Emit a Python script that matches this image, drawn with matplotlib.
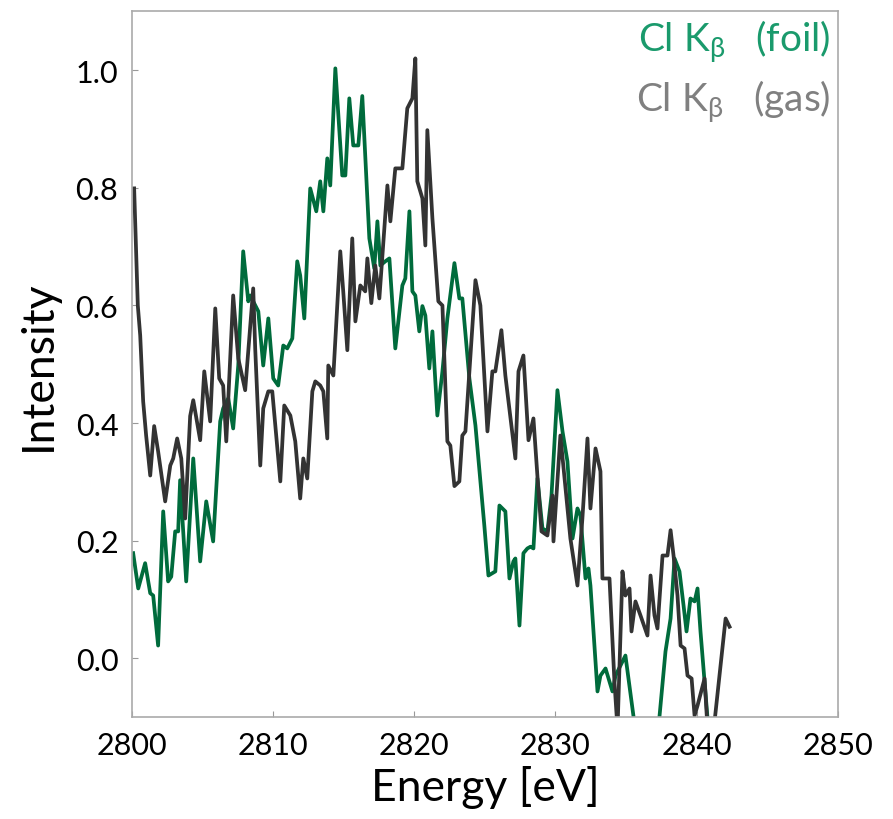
import matplotlib
matplotlib.use("Agg")
import matplotlib.pyplot as plt

# Cl K-beta, gas target
gas_e = [2800.14, 2800.40, 2800.57, 2800.78, 2800.99, 2801.28, 2801.56, 2801.84, 2802.34, 2802.70, 2802.91,
         2803.19, 2803.48, 2803.76, 2804.11, 2804.33, 2804.82, 2805.11, 2805.53, 2805.89, 2806.17,
         2806.45, 2806.67, 2807.16, 2807.52, 2808.01, 2808.58, 2808.72, 2809.08, 2809.29, 2809.65,
         2809.93, 2810.50, 2810.78, 2811.21, 2811.56, 2811.91, 2812.13, 2812.41, 2812.77, 2812.98,
         2813.33, 2813.55, 2813.83, 2813.90, 2814.26, 2814.75, 2814.96, 2815.25, 2815.60, 2815.82,
         2816.17, 2816.52, 2816.67, 2816.95, 2817.23, 2817.52, 2818.09, 2818.30, 2818.65, 2819.15,
         2819.50, 2819.86, 2820.07, 2820.21, 2820.57, 2820.78, 2820.92, 2821.28, 2821.70, 2821.99,
         2822.20, 2822.34, 2822.55, 2822.84, 2823.19, 2823.40, 2823.62, 2824.33, 2824.68, 2825.18,
         2825.53, 2825.74, 2826.17, 2826.45, 2827.16, 2827.38, 2827.73, 2828.09, 2828.44, 2828.72,
         2829.01, 2829.43, 2829.79, 2829.86, 2830.35, 2831.06, 2831.56, 2831.91, 2832.27, 2832.48,
         2832.84, 2833.19, 2833.33, 2833.83, 2834.18, 2834.40, 2834.75, 2834.96, 2835.25, 2835.39,
         2835.67, 2836.03, 2836.52, 2836.74, 2837.02, 2837.23, 2837.59, 2837.94, 2838.16, 2838.37,
         2838.65, 2838.87, 2839.15, 2839.36, 2839.65, 2839.86, 2840.07, 2840.57, 2840.78, 2841.13,
         2842.06, 2842.34]
gas_i = [0.799, 0.600, 0.549, 0.437, 0.379, 0.311, 0.395, 0.352, 0.267, 0.328, 0.340,
         0.374, 0.340, 0.238, 0.412, 0.439, 0.371, 0.488, 0.403, 0.595, 0.476,
         0.464, 0.369, 0.617, 0.510, 0.456, 0.629, 0.527, 0.328, 0.425, 0.454,
         0.454, 0.301, 0.430, 0.413, 0.369, 0.272, 0.340, 0.306, 0.454, 0.471,
         0.464, 0.454, 0.374, 0.498, 0.481, 0.692, 0.624, 0.524, 0.714, 0.573,
         0.634, 0.624, 0.680, 0.604, 0.668, 0.612, 0.804, 0.743, 0.833, 0.833,
         0.935, 0.952, 1.020, 0.811, 0.782, 0.702, 0.898, 0.748, 0.607, 0.600,
         0.463, 0.369, 0.362, 0.293, 0.301, 0.379, 0.386, 0.643, 0.600, 0.386,
         0.488, 0.488, 0.558, 0.481, 0.340, 0.488, 0.515, 0.371, 0.408, 0.311,
         0.216, 0.209, 0.277, 0.199, 0.379, 0.204, 0.124, 0.238, 0.374, 0.255,
         0.357, 0.318, 0.136, 0.136, -0.039, -0.120, 0.148, 0.107, 0.119, 0.046,
         0.097, 0.073, 0.039, 0.141, 0.073, 0.051, 0.175, 0.175, 0.218, 0.175,
         0.107, 0.022, 0.017, -0.029, -0.034, -0.097, -0.080, -0.034, -0.120, -0.140,
         0.068, 0.054]

# Cl K-beta, foil target
foil_e = [2800.07, 2800.43, 2800.92, 2801.28, 2801.49, 2801.84, 2802.20, 2802.55, 2802.77, 2803.05,
          2803.26, 2803.40, 2803.83, 2804.33, 2804.82, 2805.25, 2805.74, 2806.24, 2806.45, 2806.81,
          2807.16, 2807.52, 2807.87, 2808.23, 2808.37, 2808.58, 2808.94, 2809.29, 2809.65, 2810.00,
          2810.35, 2810.71, 2810.99, 2811.35, 2811.70, 2811.91, 2812.20, 2812.62, 2813.05, 2813.33,
          2813.55, 2813.83, 2814.04, 2814.40, 2814.89, 2815.11, 2815.39, 2815.67, 2816.03, 2816.31,
          2816.81, 2817.16, 2817.38, 2817.59, 2817.94, 2818.23, 2818.65, 2819.15, 2819.36, 2819.65,
          2819.86, 2820.07, 2820.35, 2820.57, 2820.78, 2821.06, 2821.28, 2821.63, 2821.99, 2822.34,
          2822.84, 2823.19, 2823.40, 2823.90, 2824.33, 2824.96, 2825.25, 2825.74, 2826.03, 2826.45,
          2826.74, 2827.02, 2827.16, 2827.45, 2827.73, 2828.01, 2828.23, 2828.44, 2828.72, 2829.08,
          2829.43, 2829.72, 2830.14, 2830.50, 2830.85, 2831.21, 2831.56, 2831.77, 2832.13, 2832.34,
          2832.48, 2832.98, 2833.19, 2833.55, 2834.04, 2834.26, 2834.96, 2835.74, 2837.23, 2837.80,
          2838.16, 2838.44, 2838.79, 2839.08, 2839.29, 2839.57, 2839.86, 2840.07, 2840.28, 2840.78,
          2840.99]
foil_i = [0.179, 0.119, 0.162, 0.111, 0.107, 0.022, 0.250, 0.131, 0.139, 0.216,
          0.216, 0.303, 0.131, 0.340, 0.165, 0.267, 0.199, 0.403, 0.425, 0.442,
          0.391, 0.498, 0.692, 0.607, 0.617, 0.607, 0.590, 0.498, 0.578, 0.476,
          0.464, 0.532, 0.527, 0.544, 0.675, 0.651, 0.578, 0.799, 0.760, 0.811,
          0.760, 0.850, 0.804, 1.003, 0.821, 0.821, 0.952, 0.872, 0.872, 0.956,
          0.714, 0.663, 0.743, 0.668, 0.675, 0.680, 0.527, 0.634, 0.646, 0.760,
          0.624, 0.617, 0.556, 0.599, 0.583, 0.493, 0.556, 0.413, 0.488, 0.578,
          0.672, 0.612, 0.612, 0.476, 0.396, 0.226, 0.141, 0.148, 0.260, 0.250,
          0.136, 0.165, 0.170, 0.056, 0.179, 0.187, 0.190, 0.187, 0.306, 0.221,
          0.216, 0.277, 0.456, 0.386, 0.335, 0.204, 0.255, 0.243, 0.136, 0.153,
          0.124, -0.056, -0.029, -0.017, -0.056, -0.029, 0.005, -0.136, -0.136, 0.012,
          0.068, 0.170, 0.148, 0.090, 0.046, 0.102, 0.097, 0.119, 0.046, -0.102,
          -0.136]

plt.rcParams['font.family'] = ['Lato', 'DejaVu Sans']
plt.rcParams['mathtext.fontset'] = 'custom'
plt.rcParams['mathtext.rm'] = 'Lato'
plt.rcParams['mathtext.it'] = 'Lato'

fig = plt.figure(figsize=(8.93, 8.2), dpi=100)
ax = fig.add_axes([0.148, 0.124, 0.79, 0.861])

ax.plot(foil_e, foil_i, color='#006b3c', lw=2.7)
ax.plot(gas_e, gas_i, color='#333333', lw=2.7)

ax.set_xlim(2800, 2850)
ax.set_ylim(-0.1, 1.1)
ax.set_xticks([2800, 2810, 2820, 2830, 2840, 2850])
ax.set_yticks([0.0, 0.2, 0.4, 0.6, 0.8, 1.0])
ax.set_yticklabels(['0.0', '0.2', '0.4', '0.6', '0.8', '1.0'])
ax.tick_params(direction='in', length=4, width=0.8, color='#999999', labelsize=22, pad=10)
for s in ax.spines.values():
    s.set_color('#aaaaaa')
    s.set_linewidth(1.2)

ax.set_xlabel('Energy [eV]', fontsize=32, labelpad=4)
ax.set_ylabel('Intensity', fontsize=32, labelpad=12)

ax.text(0.99, 0.99, r'Cl K$_\beta$   (foil)', transform=ax.transAxes, ha='right', va='top',
        fontsize=28, color='#1a9a6c')
ax.text(0.99, 0.905, r'Cl K$_\beta$   (gas)', transform=ax.transAxes, ha='right', va='top',
        fontsize=28, color='#808080')

fig.savefig('out.png', dpi=100)
